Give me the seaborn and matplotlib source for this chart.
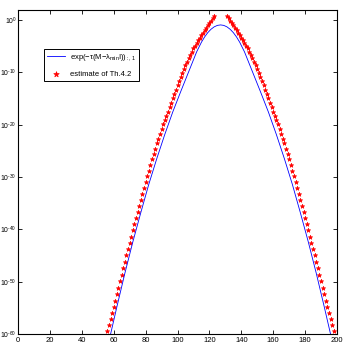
import numpy as np
import pandas as pd
import matplotlib
matplotlib.use("Agg")
import matplotlib.pyplot as plt
import seaborn as sns

# exact curve (log10 of the value)
x_exact = [52, 57, 62, 67, 72, 77, 82, 87, 92, 97, 102, 107, 112, 115, 117, 119,
           121, 123, 125, 127, 129, 131, 133, 135, 137, 139, 142, 147, 152, 157,
           162, 167, 172, 177, 182, 187, 192, 197, 202]
log_exact = [-68.2, -61.4, -54.8, -48.4, -42.4, -36.8, -31.4, -26.5, -21.9, -17.6,
             -13.7, -9.9, -6.1, -4.26, -3.25, -2.42, -1.78, -1.32, -1.04, -0.95,
             -1.04, -1.32, -1.78, -2.42, -3.25, -4.26, -6.1, -9.9, -13.7, -17.6,
             -21.9, -26.5, -31.4, -36.8, -42.4, -48.4, -54.8, -61.4, -68.2]

# estimate of Th.4.2, one per step, x = 55..199 (log10 of the value)
x_est = list(range(55, 200))
log_est = [-60.8, -59.4, -58.3, -57.2, -56.0, -54.8, -53.6, -52.4, -51.2, -49.95,
           -48.7, -47.45, -46.2, -45.0, -43.8, -42.6, -41.4, -40.2, -39.0, -37.8,
           -36.7, -35.55, -34.4, -33.25, -32.1, -31.0, -29.9, -28.8, -27.7, -26.65,
           -25.6, -24.6, -23.6, -22.65, -21.7, -20.8, -19.95, -19.1, -18.3, -17.5,
           -16.65, -15.8, -14.95, -14.1, -13.3, -12.5, -11.7, -10.9, -10.1, -9.3,
           -8.6, -7.95, -7.3, -6.65, -6.05, -5.45, -4.9, -4.35, -3.85, -3.4,
           -2.95, -2.5, -2.0, -1.5, -1.05, -0.6, -0.15, 0.3, 0.7,
           3.0, 3.5, 4.0, 4.5, 4.0, 3.5, 3.0,
           0.7, 0.3, -0.15, -0.6, -1.05, -1.5, -2.0, -2.5, -2.95, -3.4,
           -3.85, -4.35, -4.9, -5.45, -6.05, -6.65, -7.3, -7.95, -8.6, -9.3,
           -10.1, -10.9, -11.7, -12.5, -13.3, -14.1, -14.95, -15.8, -16.65, -17.5,
           -18.3, -19.1, -19.95, -20.8, -21.7, -22.65, -23.6, -24.6, -25.6, -26.65,
           -27.7, -28.8, -29.9, -31.0, -32.1, -33.25, -34.4, -35.55, -36.7, -37.8,
           -39.0, -40.2, -41.4, -42.6, -43.8, -45.0, -46.2, -47.45, -48.7, -49.95,
           -51.2, -52.4, -53.6, -54.8, -56.0, -57.2, -58.3, -59.4, -60.8]

x_ticks = [0, 20, 40, 60, 80, 100, 120, 140, 160, 180, 200]
y_exps = [-60, -50, -40, -30, -20, -10, 0]

df_exact = pd.DataFrame({"x": x_exact, "y": 10.0 ** np.array(log_exact)})
df_est = pd.DataFrame({"x": x_est, "y": 10.0 ** np.array(log_est)})

plt.rcParams["font.family"] = ["Liberation Sans", "DejaVu Sans"]
plt.rcParams["mathtext.fontset"] = "custom"
plt.rcParams["mathtext.rm"] = "Liberation Sans"
plt.rcParams["mathtext.it"] = "Liberation Sans:italic"
plt.rcParams["mathtext.default"] = "regular"

fig = plt.figure(figsize=(3.46, 3.46), dpi=100)
ax = fig.add_axes([18 / 346, 12 / 346, 319 / 346, 324 / 346])

sns.lineplot(data=df_exact, x="x", y="y", color="blue", linewidth=0.6, ax=ax,
             label=r"exp($-\tau$(M$-\lambda_{min}$I))$_{:,1}$")
sns.scatterplot(data=df_est, x="x", y="y", marker="*", color="red", s=10,
                edgecolor="red", linewidth=0.5, ax=ax, label="estimate of Th.4.2")

ax.set_yscale("log")
ax.set_xlim(0, 200)
ax.set_ylim(1e-60, 10 ** 1.9)
ax.set_xticks(x_ticks)
ax.set_yticks([10.0 ** e for e in y_exps])
# short hyphen in the exponent so the labels fit in the left margin
ax.set_yticklabels(["10$^{%s}$" % (str(e).replace("-", "\u2010")) for e in y_exps])
ax.minorticks_off()
ax.set_xlabel("")
ax.set_ylabel("")
ax.tick_params(direction="in", length=3, width=0.6, top=True, right=True,
               labelsize=5.5, pad=2)
ax.tick_params(axis="y", pad=1, labelsize=4.9)
for s in ax.spines.values():
    s.set_linewidth(0.8)

leg = ax.legend(loc="upper left", bbox_to_anchor=(0.0815, 0.88), borderaxespad=0,
                fontsize=5.5, fancybox=False, framealpha=1, edgecolor="black",
                handlelength=2.4, handletextpad=0.6, labelspacing=1.0,
                markerscale=1.3)
leg.get_frame().set_linewidth(0.7)

fig.savefig("out.png", dpi=100)
